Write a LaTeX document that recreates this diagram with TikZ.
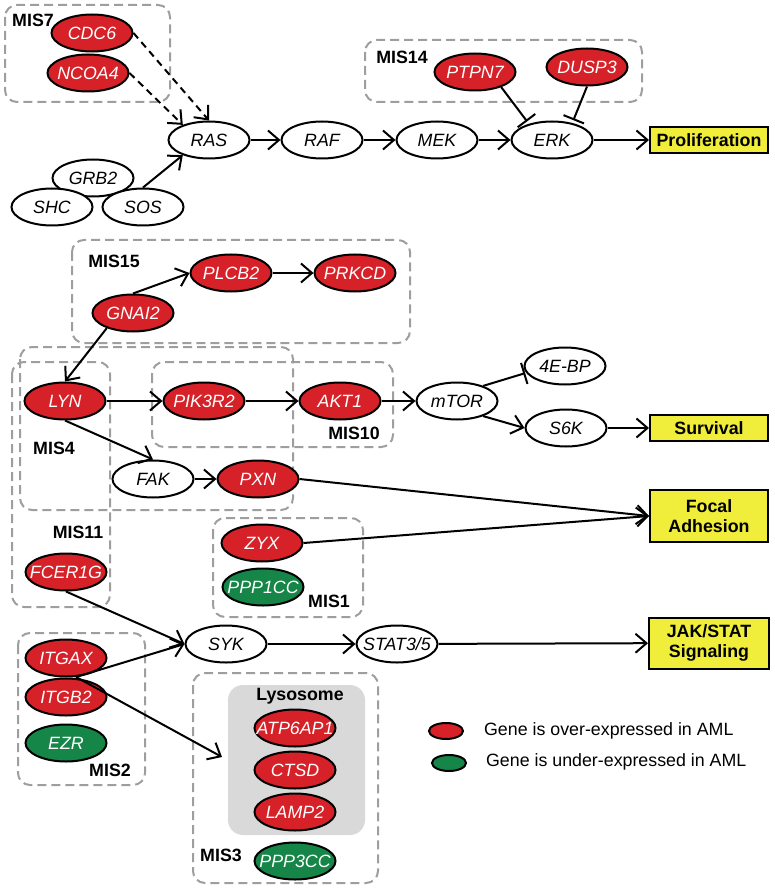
\documentclass[tikz,border=0pt]{standalone}
\usepackage{fontspec}
\setmainfont{Liberation Sans}
\usepackage{tikz}
\usetikzlibrary{arrows.meta,shapes.geometric}
\definecolor{upred}{RGB}{214,33,40}
\definecolor{downgreen}{RGB}{22,133,72}
\definecolor{outyellow}{RGB}{240,238,58}
\definecolor{misgray}{RGB}{158,158,158}
\definecolor{lysogray}{RGB}{217,217,217}
\tikzstyle{gene} = [ellipse,draw=black,line width=2pt,fill=white,minimum width=81pt,minimum height=37pt,inner xsep=-25pt,inner ysep=0pt,font=\itshape]
\tikzstyle{upgene} = [gene,fill=upred,text=white]
\tikzstyle{downgene} = [gene,fill=downgreen,text=white]
\tikzstyle{outcome} = [rectangle,draw=black,line width=2pt,fill=outyellow,minimum width=118pt,minimum height=26pt,inner sep=1pt,align=center,font=\bfseries]
\tikzstyle{misbox} = [draw=misgray,line width=2pt,dash pattern=on 9pt off 5pt,rounded corners=12pt]
\tikzstyle{mislabel} = [font=\bfseries,inner sep=0pt]
\tikzstyle{arrow} = [line width=2pt,-{Straight Barb[length=11pt,width=19pt,line width=2pt]}]
\tikzstyle{dasharrow} = [arrow,dash pattern=on 7pt off 5pt]
\tikzstyle{inhibit} = [line width=2pt,shorten >=3pt,-{Bar[width=22pt,line width=2pt]}]
\tikzstyle{legdot} = [ellipse,draw=black,line width=2pt,minimum width=34pt,minimum height=16pt,inner sep=0pt]

\begin{document}
\fontsize{17.8pt}{20pt}\selectfont
\begin{tikzpicture}[x=1pt,y=-1pt]
    \useasboundingbox (0,0) rectangle (774,890);
    % module boxes
    \draw[misbox] (5,5) rectangle (170,102);
    \draw[misbox] (365,40) rectangle (642,102);
    \draw[misbox] (72,240) rectangle (410,343);
    \draw[misbox] (20,347) rectangle (293,510);
    \draw[misbox] (12,362) rectangle (110,607);
    \draw[misbox] (152,362) rectangle (393,447);
    \draw[misbox] (213,518) rectangle (363,617);
    \draw[misbox] (18,633) rectangle (145,785);
    \draw[misbox] (193,673) rectangle (378,883);
    \fill[lysogray, rounded corners=15pt] (228,685) rectangle (365,835);
    \node[mislabel] (mis7) at (33,20) {MIS7};
    \node[mislabel] (mis14) at (402,57) {MIS14};
    \node[mislabel] (mis15) at (114,261) {MIS15};
    \node[mislabel] (mis4) at (54,448) {MIS4};
    \node[mislabel] (mis11) at (78,532) {MIS11};
    \node[mislabel] (mis10) at (354,433) {MIS10};
    \node[mislabel] (mis1) at (329,601) {MIS1};
    \node[mislabel] (mis2) at (110,770) {MIS2};
    \node[mislabel] (mis3) at (221,855) {MIS3};
    \node[mislabel] (lyso) at (300,696) {Lysosome};

    % genes
    \node[upgene] (cdc6) at (92,33) {CDC6};
    \node[upgene] (ncoa4) at (88,73) {NCOA4};
    \node[gene] (ras) at (209,140) {RAS};
    \node[gene] (raf) at (322,140) {RAF};
    \node[gene] (mek) at (437,140) {MEK};
    \node[gene] (erk) at (552,140) {ERK};
    \node[gene] (grb2) at (93,178) {GRB2};
    \node[gene] (shc) at (52,207) {SHC};
    \node[gene] (sos) at (143,207) {SOS};
    \node[upgene] (ptpn7) at (475,72) {PTPN7};
    \node[upgene] (dusp3) at (587,67) {DUSP3};
    \node[upgene] (plcb2) at (231,273) {PLCB2};
    \node[upgene] (prkcd) at (355,273) {PRKCD};
    \node[upgene] (gnai2) at (133,313) {GNAI2};
    \node[upgene] (lyn) at (65,401) {LYN};
    \node[upgene] (pik3r2) at (204,401) {PIK3R2};
    \node[upgene] (akt1) at (340,401) {AKT1};
    \node[gene] (mtor) at (457,401) {mTOR};
    \node[gene] (ebp) at (565,366) {4E-BP};
    \node[gene] (s6k) at (566,428) {S6K};
    \node[gene] (fak) at (153,479) {FAK};
    \node[upgene] (pxn) at (258,479) {PXN};
    \node[upgene] (zyx) at (262,543) {ZYX};
    \node[downgene] (ppp1cc) at (263,587) {PPP1CC};
    \node[upgene] (fcer1g) at (66,572) {FCER1G};
    \node[gene] (syk) at (226,644) {SYK};
    \node[gene] (stat) at (397,644) {STAT3/5};
    \node[upgene] (itgax) at (66,658) {ITGAX};
    \node[upgene] (itgb2) at (66,697) {ITGB2};
    \node[downgene] (ezr) at (66,743) {EZR};
    \node[upgene] (atp6ap1) at (295,728) {ATP6AP1};
    \node[upgene] (ctsd) at (295,770) {CTSD};
    \node[upgene] (lamp2) at (295,812) {LAMP2};
    \node[downgene] (ppp3cc) at (295,861) {PPP3CC};

    % outcomes
    \node[outcome] (prolif) at (709,140) {Proliferation};
    \node[outcome] (surv) at (709,428) {Survival};
    \node[outcome, minimum height=52pt] (focal) at (709,516) {Focal\\Adhesion};
    \node[outcome, minimum height=51pt, minimum width=120pt] (jak) at (709,643) {JAK/STAT\\Signaling};

    \coordinate (itgjoin) at (76,677);
    \coordinate (itgend) at (222,757);

    % edges
    \draw[dasharrow] (cdc6.east) -- (ras.north);
    \draw[dasharrow] (ncoa4.east) -- (ras.150);
    \draw[arrow] (sos.north) -- (ras.-150);
    \draw[arrow] (ras) -- (raf);
    \draw[arrow] (raf) -- (mek);
    \draw[arrow] (mek) -- (erk);
    \draw[arrow] (erk) -- (prolif);
    \draw[inhibit] (ptpn7.-30) -- (erk.145);
    \draw[inhibit] (dusp3.south) -- (erk.40);
    \draw[arrow] (gnai2.north) -- (plcb2.west);
    \draw[arrow] (plcb2) -- (prkcd);
    \draw[arrow] (gnai2.-150) -- (lyn.north);
    \draw[arrow] (lyn) -- (pik3r2);
    \draw[arrow] (pik3r2) -- (akt1);
    \draw[arrow] (akt1) -- (mtor);
    \draw[inhibit, shorten >=1pt] (mtor.30) -- (ebp.190);
    \draw[arrow] (mtor.-30) -- (s6k.west);
    \draw[arrow] (s6k) -- (surv);
    \draw[arrow] (lyn.south) -- (fak.north);
    \draw[arrow] (fak) -- (pxn);
    \draw[arrow] (pxn.east) -- (focal.west);
    \draw[arrow] (zyx.east) -- (focal.west);
    \draw[arrow] (fcer1g.south) -- (syk.west);
    \draw[arrow] (itgjoin) -- (syk.west);
    \draw[arrow] (itgjoin) -- (itgend);
    \draw[arrow] (syk) -- (stat);
    \draw[arrow] (stat) -- (jak);

    % legend
    \node[legdot, fill=upred] (legup) at (446,731) {};
    \node[anchor=west] (leguptext) at (478,731) {Gene is over-expressed in AML};
    \node[legdot, fill=downgreen] (legdown) at (449,763) {};
    \node[anchor=west] (legdowntext) at (480,762) {Gene is under-expressed in AML};
\end{tikzpicture}
\end{document}
